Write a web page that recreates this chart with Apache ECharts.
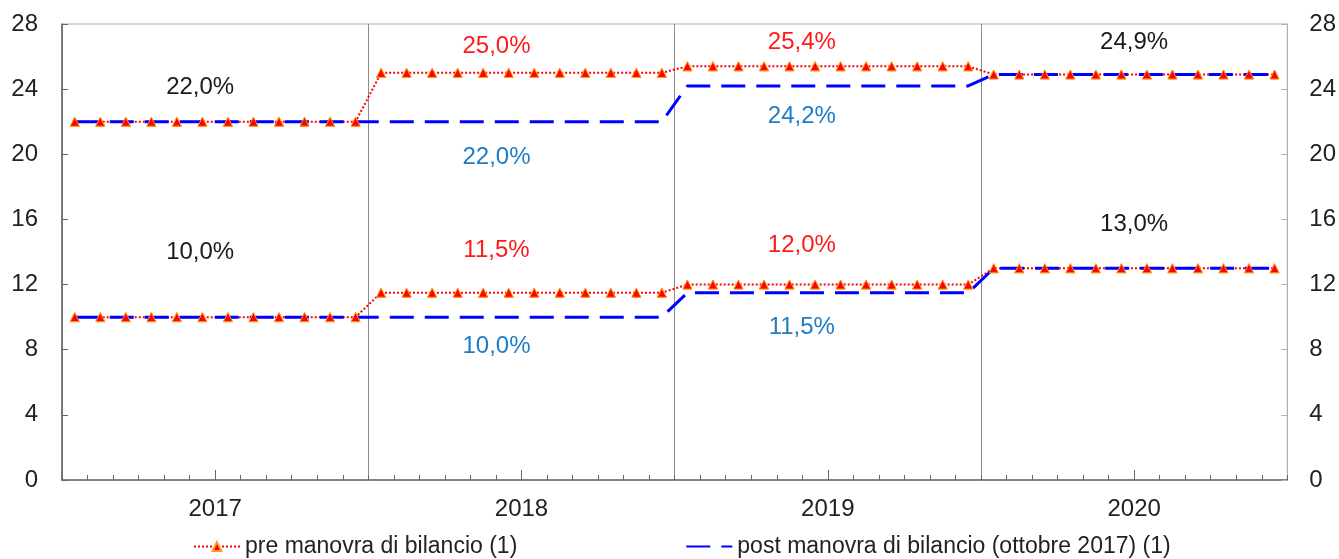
<!DOCTYPE html>
<html>
<head>
<meta charset="utf-8">
<script src="https://cdn.jsdelivr.net/npm/echarts@6/dist/echarts.min.js"></script>
<style>html,body{margin:0;padding:0;background:#fff}#c{width:1339px;height:559px}</style>
</head>
<body>
<div id="c"></div>
<script>
// ---------- DATA ----------
const years = ['2017', '2018', '2019', '2020'];
const monthsPerYear = ['01','02','03','04','05','06','07','08','09','10','11','12'];
const yTicks = [0, 4, 8, 12, 16, 20, 24, 28];

const preHigh = [22,22,22,22,22,22,22,22,22,22,22,22,
                 25.0,25.0,25.0,25.0,25.0,25.0,25.0,25.0,25.0,25.0,25.0,25.0,
                 25.4,25.4,25.4,25.4,25.4,25.4,25.4,25.4,25.4,25.4,25.4,25.4,
                 24.9,24.9,24.9,24.9,24.9,24.9,24.9,24.9,24.9,24.9,24.9,24.9];
const postHigh = [22,22,22,22,22,22,22,22,22,22,22,22,
                  22,22,22,22,22,22,22,22,22,22,22,22,
                  24.2,24.2,24.2,24.2,24.2,24.2,24.2,24.2,24.2,24.2,24.2,24.2,
                  24.9,24.9,24.9,24.9,24.9,24.9,24.9,24.9,24.9,24.9,24.9,24.9];
const preLow = [10,10,10,10,10,10,10,10,10,10,10,10,
                11.5,11.5,11.5,11.5,11.5,11.5,11.5,11.5,11.5,11.5,11.5,11.5,
                12,12,12,12,12,12,12,12,12,12,12,12,
                13,13,13,13,13,13,13,13,13,13,13,13];
const postLow = [10,10,10,10,10,10,10,10,10,10,10,10,
                 10,10,10,10,10,10,10,10,10,10,10,10,
                 11.5,11.5,11.5,11.5,11.5,11.5,11.5,11.5,11.5,11.5,11.5,11.5,
                 13,13,13,13,13,13,13,13,13,13,13,13];

// annotations: common (black), pre (red), post (blue)
const commonYears = ['2017', '2020', '2017', '2020'];
const commonY     = [24.1, 26.9, 14.0, 15.7];
const commonText  = ['22,0%', '24,9%', '10,0%', '13,0%'];
const preYears = ['2018', '2019', '2018', '2019'];
const preY     = [26.6, 26.9, 14.1, 14.4];
const preText  = ['25,0%', '25,4%', '11,5%', '12,0%'];
const postYears = ['2018', '2019', '2018', '2019'];
const postY     = [19.8, 22.35, 8.2, 9.4];
const postText  = ['22,0%', '24,2%', '10,0%', '11,5%'];

const preName = 'pre manovra di bilancio (1)';
const postName = 'post manovra di bilancio (ottobre 2017) (1)';

// ---------- BUILD ----------
const months = [];
years.forEach(y => monthsPerYear.forEach(m => months.push(y + '-' + m)));

const yearOffset = {'2017': -15, '2018': -25, '2019': -26, '2020': 0};
const FONT = '"Liberation Sans", Arial, sans-serif';

const redLine = {type: 'dotted', color: '#ff0000', width: 2};
const blueLine = {type: [24, 11], color: '#0000ff', width: 3};
const triStyle = {color: '#ff0000', borderColor: '#ff9a1a', borderWidth: 1};

function preSeries(data, named) {
  return {
    name: named ? preName : 'preX', type: 'line', xAxisIndex: 0, yAxisIndex: 0,
    data: data, symbol: 'triangle', symbolSize: 9, showSymbol: true,
    lineStyle: redLine, itemStyle: triStyle, z: 2, animation: false, silent: true
  };
}
function postSeries(data, named) {
  return {
    name: named ? postName : 'postX', type: 'line', xAxisIndex: 0, yAxisIndex: 0,
    data: data, symbol: 'none', lineStyle: blueLine, itemStyle: {color: '#0000ff'},
    z: 3, animation: false, silent: true
  };
}
function markerSeries(data) {
  return {
    name: 'markers', type: 'line', xAxisIndex: 0, yAxisIndex: 0, data: data,
    symbol: 'triangle', symbolSize: 9, lineStyle: {opacity: 0}, itemStyle: triStyle,
    z: 4, animation: false, silent: true
  };
}
function annot(yrs, ys, texts, color) {
  return {
    type: 'scatter', xAxisIndex: 1, yAxisIndex: 0, symbolSize: 0, silent: true,
    animation: false, z: 5, itemStyle: {opacity: 1},
    data: ys.map((v, i) => ({
      value: [yrs[i], v, texts[i]],
      label: {offset: [yearOffset[yrs[i]], 0]}
    })),
    label: {show: true, position: 'inside', formatter: p => p.value[2],
            color: color, fontSize: 24, fontFamily: FONT, opacity: 1}
  };
}

const chart = echarts.init(document.getElementById('c'), null, {renderer: 'canvas'});
chart.setOption({
  backgroundColor: '#fff',
  animation: false,
  grid: {left: 62, right: 51, top: 24, bottom: 79, show: true,
         borderColor: '#b0b0b0', borderWidth: 1, backgroundColor: 'transparent'},
  legend: {
    data: [
      {name: preName},
      {name: postName, itemStyle: {opacity: 0}}
    ],
    top: 530, left: 188, itemGap: 168,
    itemWidth: 46, itemHeight: 11,
    textStyle: {fontSize: 23, fontFamily: FONT, color: '#222'}
  },
  xAxis: [
    {
      type: 'category', data: months, boundaryGap: true, position: 'bottom',
      axisLine: {show: true, lineStyle: {color: '#666', width: 1.5}},
      axisTick: {show: true, inside: true, length: 5, interval: 0, lineStyle: {color: '#666'}},
      axisLabel: {show: false}, splitLine: {show: false}
    },
    {
      type: 'category', data: years, boundaryGap: true, position: 'bottom',
      axisLine: {show: false},
      axisTick: {show: true, inside: true, length: 10, alignWithLabel: true, lineStyle: {color: '#666'}},
      axisLabel: {show: true, fontSize: 24, fontFamily: FONT, color: '#222', margin: 17},
      splitLine: {show: true, lineStyle: {color: '#8c8c8c', width: 1}}
    }
  ],
  yAxis: [
    {
      type: 'value', min: yTicks[0], max: yTicks[yTicks.length - 1], interval: 4, position: 'left',
      axisLine: {show: true, lineStyle: {color: '#666', width: 1.5}},
      axisTick: {show: true, inside: true, length: 6, lineStyle: {color: '#666'}},
      axisLabel: {fontSize: 24, fontFamily: FONT, color: '#222', margin: 24},
      splitLine: {show: false}
    },
    {
      type: 'value', min: yTicks[0], max: yTicks[yTicks.length - 1], interval: 4, position: 'right',
      axisLine: {show: true, lineStyle: {color: '#b0b0b0', width: 1}},
      axisTick: {show: true, inside: true, length: 6, lineStyle: {color: '#b0b0b0'}},
      axisLabel: {fontSize: 24, fontFamily: FONT, color: '#222', margin: 22},
      splitLine: {show: false}
    }
  ],
  series: [
    preSeries(preHigh, true),
    postSeries(postHigh, true),
    markerSeries(preHigh),
    preSeries(preLow, false),
    postSeries(postLow, false),
    markerSeries(preLow),
    annot(commonYears, commonY, commonText, '#1a1a1a'),
    annot(preYears, preY, preText, '#ff1a1a'),
    annot(postYears, postY, postText, '#1e7cc4')
  ]
});
</script>
</body>
</html>
